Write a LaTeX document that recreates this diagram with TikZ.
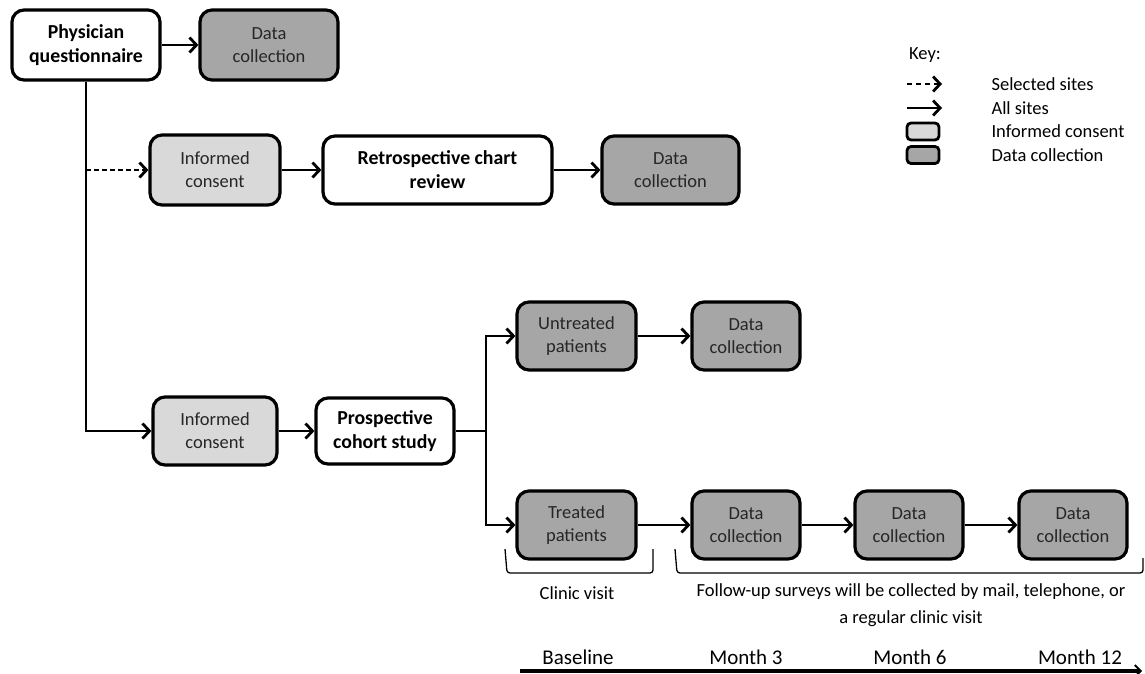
\documentclass[tikz,border=0pt]{standalone}
\usepackage{fontspec}
\setmainfont{Carlito}
\usepackage{tikz}
\usetikzlibrary{arrows.meta,positioning,calc}

\definecolor{dcgray}{HTML}{A6A6A6}
\definecolor{icgray}{HTML}{D9D9D9}

\tikzset{
  box/.style={draw=black, line width=3.2pt, rounded corners=12pt, align=center,
    inner sep=0pt, minimum height=68pt, font=\fontsize{18.5}{23}\selectfont},
  study/.style={box, fill=white, font=\fontsize{19.8}{24}\selectfont\bfseries},
  consent/.style={box, fill=icgray, text=black!85},
  datacoll/.style={box, fill=dcgray, text=black!85},
  arr/.style={-{Straight Barb[length=7pt,width=15pt,line width=2.8pt]}, line width=2.8pt},
  bracket/.style={line width=1.3pt, rounded corners=3pt},
  lbl/.style={font=\fontsize{18.5}{27}\selectfont, align=center},
}

\begin{document}
\begin{tikzpicture}[x=1pt,y=-1pt]
    \useasboundingbox (0,0) rectangle (1145,673);
    % Physician questionnaire
    \node[study, minimum width=148pt, minimum height=70pt] (pq) at (86,45) {Physician\\questionnaire};
    \node[datacoll, minimum width=138pt, minimum height=70pt] (dc0) at (269,45) {Data\\collection};
    % Retrospective arm
    \node[consent, minimum width=130pt, minimum height=70pt] (ic1) at (215,170) {Informed\\consent};
    \node[study, minimum width=229pt] (rcr) at (437.5,170) {Retrospective chart\\review};
    \node[datacoll, minimum width=137pt] (dc1) at (670.5,170) {Data\\collection};
    % Prospective arm
    \node[consent, minimum width=124pt] (ic2) at (215,431) {Informed\\consent};
    \node[study, minimum width=138pt, minimum height=66pt] (pcs) at (385,431) {Prospective\\cohort study};
    \node[datacoll, minimum width=119pt] (untr) at (576.5,336) {Untreated\\patients};
    \node[datacoll, minimum width=108pt] (dc2) at (746,336) {Data\\collection};
    \node[datacoll, minimum width=119pt] (treat) at (576.5,525) {Treated\\patients};
    \node[datacoll, minimum width=108pt] (dc3) at (746,525) {Data\\collection};
    \node[datacoll, minimum width=108pt] (dc4) at (909,525) {Data\\collection};
    \node[datacoll, minimum width=108pt] (dc5) at (1073,525) {Data\\collection};
    \coordinate (split) at (486,431);
    % Connectors
    \draw[arr] (pq) -- (dc0);
    \draw[arr] (pq.south) |- (ic2.west);
    \draw[arr, dash pattern=on 5pt off 3pt, line width=2.2pt] (pq.south |- ic1.west) -- (ic1.west);
    \draw[arr] (ic1) -- (rcr);
    \draw[arr] (rcr) -- (dc1);
    \draw[arr] (ic2) -- (pcs);
    \draw[line width=2.8pt] (pcs.east) -- (split);
    \draw[arr] (split) |- (untr.west);
    \draw[arr] (split) |- (treat.west);
    \draw[arr] (untr) -- (dc2);
    \draw[arr] (treat) -- (dc3);
    \draw[arr] (dc3) -- (dc4);
    \draw[arr] (dc4) -- (dc5);
    % Brackets
    \draw[bracket] (505,549) -- (507,573) -- (653,573) -- (653,549);
    \draw[bracket] (675,549) -- (677,573) -- (1143,573) -- (1143,558);
    \node[lbl] (clinic) at (577,593) {Clinic visit};
    \node[lbl, anchor=north] (follow) at (911,580) {Follow-up surveys will be collected by mail, telephone, or\\a regular clinic visit};
    % Timeline
    \coordinate (tstart) at (520,671);
    \coordinate (tend) at (1142,671);
    \draw[line width=3.2pt, -{Straight Barb[length=6pt,width=12pt,line width=1.8pt]}] (tstart) -- (tend);
    \foreach \x/\lab in {578/Baseline, 746/Month 3, 910/Month 6, 1080/Month 12} {
      \node[font=\fontsize{21}{25}\selectfont] at (\x,657) {\lab};
    }
    % Legend
    \node[lbl] (key) at (925,55) {Key:};
    \coordinate (k1a) at (907,84);
    \coordinate (k1b) at (942,84);
    \coordinate (k2a) at (907,108);
    \coordinate (k2b) at (942,108);
    \draw[arr, dash pattern=on 5pt off 4pt, line width=2.4pt] (k1a) -- (k1b);
    \draw[arr] (k2a) -- (k2b);
    \node[draw, line width=2.8pt, rounded corners=4pt, fill=icgray, minimum width=32pt, minimum height=17pt, inner sep=0pt] (kic) at (923,131.5) {};
    \node[draw, line width=2.8pt, rounded corners=4pt, fill=dcgray, minimum width=32pt, minimum height=17pt, inner sep=0pt] (kdc) at (923,155) {};
    \node[lbl, anchor=west] (ksel) at (988,84) {Selected sites};
    \node[lbl, anchor=west] (kall) at (988,108) {All sites};
    \node[lbl, anchor=west] (kinf) at (988,131.5) {Informed consent};
    \node[lbl, anchor=west] (kdat) at (988,155) {Data collection};
\end{tikzpicture}
\end{document}
